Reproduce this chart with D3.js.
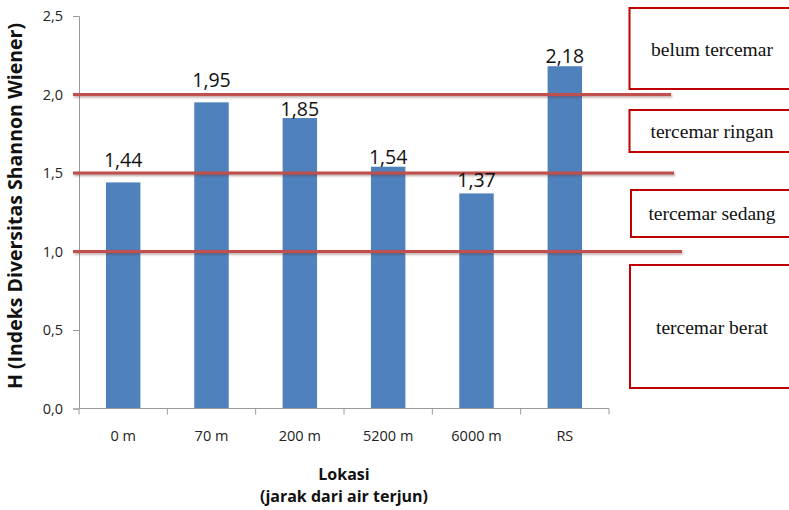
<!DOCTYPE html>
<html>
<head>
<meta charset="utf-8">
<script src="https://cdn.jsdelivr.net/npm/d3@7"></script>
<style>
  html, body { margin: 0; padding: 0; background: #fff; }
  svg { display: block; }
</style>
</head>
<body>
<svg id="chart" width="789" height="510"></svg>
<script>
// Lokasi sampling dan nilai indeks diversitas Shannon-Wiener (H')
const categories = ["0 m", "70 m", "200 m", "5200 m", "6000 m", "RS"];
const values = [1.44, 1.95, 1.85, 1.54, 1.37, 2.18];
const valueLabels = ["1,44", "1,95", "1,85", "1,54", "1,37", "2,18"];
const yTicks = [0, 0.5, 1.0, 1.5, 2.0, 2.5];
const yTickLabels = ["0,0", "0,5", "1,0", "1,5", "2,0", "2,5"];
// Batas kategori pencemaran
const thresholds = [2.0, 1.5, 1.0];
const classNames = ["belum tercemar", "tercemar ringan", "tercemar sedang", "tercemar berat"];
const yTitle = "H (Indeks Diversitas Shannon Wiener)";
const xTitle = ["Lokasi", "(jarak dari air terjun)"];

const svg = d3.select("#chart");
const sans = "'Open Sans', 'Noto Sans', sans-serif";
const serif = "'Liberation Serif', 'DejaVu Serif', serif";

const plot = { left: 79, right: 609, top: 16, bottom: 408.5 };

const x = d3.scaleBand().domain(categories).range([plot.left, plot.right])
  .paddingInner(0.61).paddingOuter(0.305);
const xBand = d3.scaleBand().domain(categories).range([plot.left, plot.right]);
const y = d3.scaleLinear().domain([0, 2.5]).range([plot.bottom, plot.top]);

// blur used for the shadow under the threshold lines
const defs = svg.append("defs");
defs.append("filter").attr("id", "blur")
  .attr("filterUnits", "userSpaceOnUse")
  .attr("x", 0).attr("y", 0).attr("width", 789).attr("height", 510)
  .append("feGaussianBlur").attr("stdDeviation", 1);

// bars
svg.append("g").selectAll("rect").data(values).join("rect")
  .attr("x", (d, i) => x(categories[i]))
  .attr("width", x.bandwidth())
  .attr("y", d => y(d))
  .attr("height", d => y(0) - y(d))
  .attr("fill", "#4f81bd");

// y axis
const yAxis = d3.axisLeft(y).tickValues(yTicks)
  .tickFormat((d, i) => yTickLabels[i]).tickSize(6).tickPadding(10);
const gy = svg.append("g").attr("transform", `translate(${plot.left},0)`).call(yAxis);
gy.select(".domain").attr("stroke", "#9a9a9a");
gy.selectAll(".tick line").attr("stroke", "#9a9a9a");
gy.selectAll(".tick text").attr("font-family", sans).attr("font-size", 14.5)
  .attr("fill", "#222");

// x axis with ticks at band boundaries
const gx = svg.append("g").attr("transform", `translate(0,${plot.bottom})`);
gx.append("line").attr("x1", plot.left).attr("x2", plot.right)
  .attr("stroke", "#9a9a9a");
const bounds = categories.map(c => xBand(c)).concat([plot.right]);
gx.selectAll("line.tk").data(bounds).join("line").attr("class", "tk")
  .attr("x1", d => d).attr("x2", d => d).attr("y1", 0).attr("y2", 6)
  .attr("stroke", "#9a9a9a");
gx.selectAll("text").data(categories).join("text")
  .attr("x", d => xBand(d) + xBand.bandwidth() / 2)
  .attr("y", 32.5)
  .attr("text-anchor", "middle")
  .attr("font-family", sans).attr("font-size", 14.5).attr("fill", "#222")
  .text(d => d);

// threshold lines with a soft shadow
const lineEnds = [671, 674, 682];
const gl = svg.append("g");
gl.selectAll("line.sh").data(thresholds).join("line").attr("class", "sh")
  .attr("x1", plot.left - 5)
  .attr("x2", (d, i) => lineEnds[i] + 1)
  .attr("y1", d => y(d) + 1.5).attr("y2", d => y(d) + 1.5)
  .attr("stroke", "#6b3432").attr("stroke-opacity", 0.45).attr("stroke-width", 3)
  .attr("filter", "url(#blur)");
gl.selectAll("line.th").data(thresholds).join("line").attr("class", "th")
  .attr("x1", plot.left - 6)
  .attr("x2", (d, i) => lineEnds[i])
  .attr("y1", d => y(d)).attr("y2", d => y(d))
  .attr("stroke", "#c0504d").attr("stroke-width", 3);

// value labels above bars
const labelLift = [15.5, 15, 2.5, 3, 6.5, 3.5];
svg.append("g").selectAll("text").data(values).join("text")
  .attr("x", (d, i) => x(categories[i]) + x.bandwidth() / 2)
  .attr("y", (d, i) => y(d) - labelLift[i])
  .attr("text-anchor", "middle")
  .attr("font-family", sans).attr("font-size", 19.5).attr("fill", "#111")
  .text((d, i) => valueLabels[i]);

// axis titles
svg.append("text")
  .attr("transform", "translate(22,206) rotate(-90)")
  .attr("text-anchor", "middle")
  .attr("font-family", sans).attr("font-weight", "bold").attr("font-size", 19.5)
  .attr("fill", "#111")
  .text(yTitle);
svg.append("g").selectAll("text").data(xTitle).join("text")
  .attr("x", (plot.left + plot.right) / 2)
  .attr("y", (d, i) => 480 + i * 22)
  .attr("text-anchor", "middle")
  .attr("font-family", sans).attr("font-weight", "bold").attr("font-size", 16)
  .attr("fill", "#111")
  .text(d => d);

// pollution class boxes
const boxes = [
  { x: 629.5, y0: 8, y1: 89, ty: 56 },
  { x: 629.5, y0: 110, y1: 152, ty: 137.5 },
  { x: 631, y0: 190, y1: 237, ty: 220 },
  { x: 630, y0: 265, y1: 388, ty: 334 }
];
const gb = svg.append("g");
gb.selectAll("rect").data(boxes).join("rect")
  .attr("x", d => d.x).attr("y", d => d.y0)
  .attr("width", 200).attr("height", d => d.y1 - d.y0)
  .attr("fill", "#fff").attr("stroke", "#c00000").attr("stroke-width", 2);
gb.selectAll("text").data(boxes).join("text")
  .attr("x", 712).attr("y", d => d.ty)
  .attr("text-anchor", "middle")
  .attr("font-family", serif).attr("font-size", 19.5).attr("fill", "#111")
  .text((d, i) => classNames[i]);
</script>
</body>
</html>
